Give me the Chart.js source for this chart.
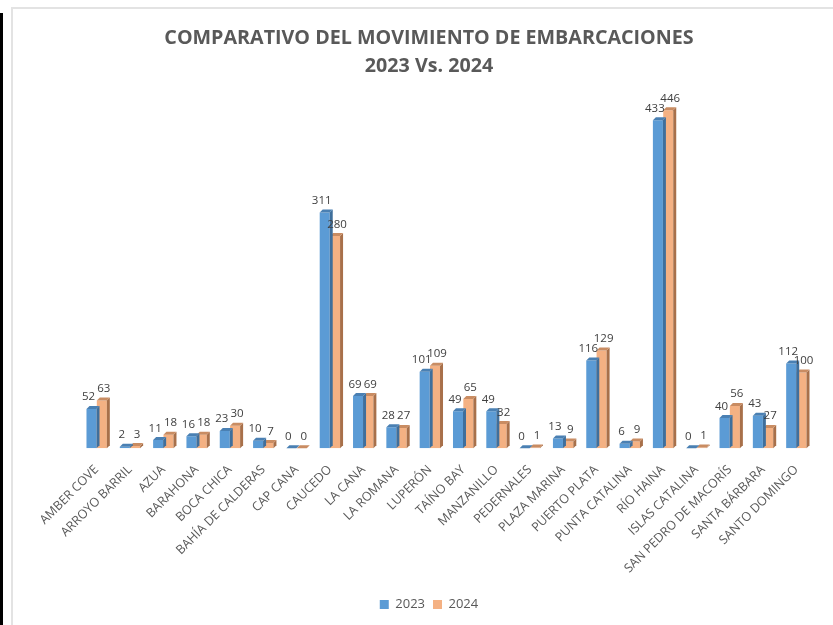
<!DOCTYPE html>
<html>
<head>
<meta charset="utf-8">
<script src="https://cdn.jsdelivr.net/npm/chart.js@4/dist/chart.umd.min.js"></script>
<style>
  html, body { margin: 0; padding: 0; background: #ffffff; }
  #wrap { position: relative; width: 833px; height: 625px; overflow: hidden; }
  #blackbar { position: absolute; left: 0; top: 13px; width: 3px; height: 612px; background: #000; }
  #frame { position: absolute; left: 11px; top: 7px; width: 830px; height: 630px; border-top: 2px solid #e3e3e3; border-left: 2px solid #e3e3e3; box-sizing: border-box; }
  canvas { position: absolute; left: 0; top: 0; }
</style>
</head>
<body>
<div id="wrap">
  <div id="blackbar"></div>
  <div id="frame"></div>
  <canvas id="c" width="833" height="625"></canvas>
</div>
<script>
const categories = [
  "AMBER COVE", "ARROYO BARRIL", "AZUA", "BARAHONA", "BOCA CHICA",
  "BAHÍA DE CALDERAS", "CAP CANA", "CAUCEDO", "LA CANA", "LA ROMANA",
  "LUPERÓN", "TAÍNO BAY", "MANZANILLO", "PEDERNALES", "PLAZA MARINA",
  "PUERTO PLATA", "PUNTA CATALINA", "RÍO HAINA", "ISLAS CATALINA",
  "SAN PEDRO DE MACORÍS", "SANTA BÁRBARA", "SANTO DOMINGO"
];
const values2023 = [52, 2, 11, 16, 23, 10, 0, 311, 69, 28, 101, 49, 49, 0, 13, 116, 6, 433, 0, 40, 43, 112];
const values2024 = [63, 3, 18, 18, 30, 7, 0, 280, 69, 27, 109, 65, 32, 1, 9, 129, 9, 446, 1, 56, 27, 100];
const seriesNames = ["2023", "2024"];
const titleLines = ["COMPARATIVO DEL MOVIMIENTO DE EMBARCACIONES", "2023 Vs. 2024"];

const FONT = "'Open Sans', 'Liberation Sans', sans-serif";
const sideColors = ["#3f6f9c", "#a8704a"];
const topColors = ["#4a80b3", "#c98c62"];

const bar3d = {
  id: 'bar3d',
  afterDatasetDraw(chart, args) {
    const ctx = chart.ctx;
    const meta = args.meta;
    const i = args.index;
    const dx = 3, dy = -3;
    ctx.save();
    meta.data.forEach(bar => {
      const p = bar.getProps(['x', 'y', 'base', 'width'], true);
      const x0 = p.x - p.width / 2, x1 = p.x + p.width / 2;
      const top = Math.min(p.y, p.base), base = p.base;
      ctx.fillStyle = sideColors[i];
      ctx.beginPath();
      ctx.moveTo(x1, top);
      ctx.lineTo(x1 + dx, top + dy);
      ctx.lineTo(x1 + dx, base + dy);
      ctx.lineTo(x1, base);
      ctx.closePath();
      ctx.fill();
      ctx.fillStyle = topColors[i];
      ctx.beginPath();
      ctx.moveTo(x0, top);
      ctx.lineTo(x0 + dx, top + dy);
      ctx.lineTo(x1 + dx, top + dy);
      ctx.lineTo(x1, top);
      ctx.closePath();
      ctx.fill();
    });
    ctx.restore();
  }
};

const valueLabels = {
  id: 'valueLabels',
  afterDatasetsDraw(chart) {
    const ctx = chart.ctx;
    ctx.save();
    ctx.font = "11.5px " + FONT;
    ctx.fillStyle = "#404040";
    ctx.textAlign = "center";
    ctx.textBaseline = "bottom";
    chart.data.datasets.forEach((ds, i) => {
      const meta = chart.getDatasetMeta(i);
      meta.data.forEach((bar, j) => {
        const p = bar.getProps(['x', 'y'], true);
        ctx.fillText(String(ds.data[j]), p.x + (i === 0 ? -3 : 2), p.y - 6);
      });
    });
    ctx.restore();
  }
};

new Chart(document.getElementById('c'), {
  type: 'bar',
  data: {
    labels: categories,
    datasets: [
      { label: seriesNames[0], data: values2023, backgroundColor: '#5b9bd5', borderWidth: 0 },
      { label: seriesNames[1], data: values2024, backgroundColor: '#f4b183', borderWidth: 0 }
    ]
  },
  options: {
    responsive: false,
    animation: false,
    devicePixelRatio: 1,
    layout: { padding: { left: 45, right: 20, top: 24, bottom: 4 } },
    datasets: { bar: { categoryPercentage: 0.62, barPercentage: 0.97 } },
    plugins: {
      title: {
        display: true,
        text: titleLines,
        color: '#595959',
        font: { family: FONT, size: 19.7, weight: 'bold', lineHeight: 1.45 },
        padding: { top: 0, bottom: 14 }
      },
      legend: {
        position: 'bottom',
        labels: {
          color: '#595959',
          font: { family: FONT, size: 13 },
          boxWidth: 9, boxHeight: 9, padding: 8
        }
      },
      tooltip: { enabled: false }
    },
    scales: {
      x: {
        grid: { display: false, drawTicks: false },
        border: { display: false },
        ticks: {
          color: '#595959',
          font: { family: FONT, size: 12.5 },
          minRotation: 45, maxRotation: 45,
          autoSkip: false, padding: 14
        }
      },
      y: {
        display: true,
        min: 0, max: 466,
        grid: { display: false, drawTicks: false },
        border: { display: false },
        ticks: { display: false },
        afterFit(axis) { axis.width = 35; }
      }
    }
  },
  plugins: [bar3d, valueLabels]
});
</script>
</body>
</html>
